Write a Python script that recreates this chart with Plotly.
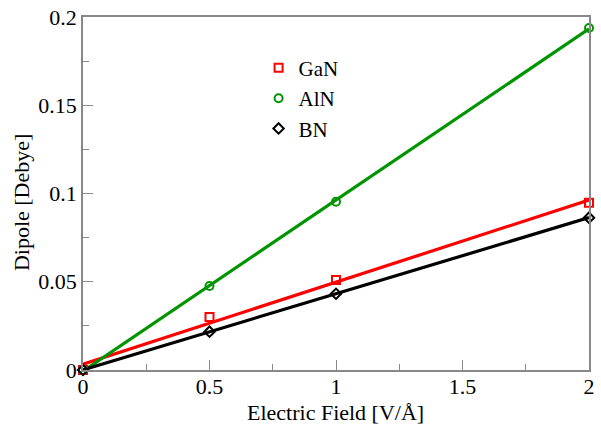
import numpy as np
import plotly.graph_objects as go

field = [0, 0.5, 1, 2]
gan = [0.0, 0.030, 0.051, 0.0948]
aln = [0.0, 0.0476, 0.0953, 0.1938]
bn = [0.0, 0.0217, 0.0432, 0.0863]

x_ticks = [0, 0.5, 1, 1.5, 2]
x_labels = ["0", "0.5", "1", "1.5", "2"]
y_ticks = [0, 0.05, 0.1, 0.15, 0.2]
y_labels = ["0", "0.05", "0.1", "0.15", "0.2"]

series = [
    ("GaN", gan, "#ff0000", "square-open"),
    ("AlN", aln, "#009400", "circle-open"),
    ("BN", bn, "#000000", "diamond-open"),
]

FONT = "Liberation Serif"
fig = go.Figure()

xfit = np.array([0.0, 2.0])
for name, vals, col, sym in series:
    k, b = np.polyfit(field, vals, 1)
    fig.add_trace(go.Scatter(x=xfit, y=k * xfit + b, mode="lines",
                             line=dict(color=col, width=3.2),
                             showlegend=False, hoverinfo="skip", cliponaxis=False))
for name, vals, col, sym in series:
    fig.add_trace(go.Scatter(x=field, y=vals, mode="markers", name=name,
                             marker=dict(symbol=sym, size=8, color=col,
                                         line=dict(color=col, width=2)),
                             cliponaxis=False))

axis_common = dict(showline=True, linecolor="#888888", linewidth=1.5, mirror=True,
                   ticks="inside", ticklen=10, tickwidth=1.2, tickcolor="#888888",
                   showgrid=False, zeroline=False, automargin=False,
                   tickfont=dict(family=FONT, size=22, color="#000"))

fig.update_xaxes(range=[0, 2], tickvals=x_ticks, ticktext=x_labels, ticklabelstandoff=-4,
                 minor=dict(ticks="inside", ticklen=6, dtick=0.25, tickcolor="#888888", tickwidth=1.2),
                 **axis_common)
fig.update_yaxes(range=[0, 0.2], tickvals=y_ticks, ticktext=y_labels,
                 minor=dict(ticks="inside", ticklen=6, dtick=0.025, tickcolor="#888888", tickwidth=1.2),
                 **axis_common)

fig.add_annotation(text="Electric Field [V/Å]", xref="paper", yref="paper",
                   x=0.499, y=-0.12, xanchor="center", yanchor="middle", showarrow=False,
                   font=dict(family=FONT, size=22, color="#000"))
fig.add_annotation(text="Dipole [Debye]", xref="paper", yref="paper",
                   x=-0.121, y=0.475, xanchor="center", yanchor="middle", showarrow=False,
                   textangle=-90, font=dict(family=FONT, size=22, color="#000"))

fig.update_layout(
    width=601, height=425,
    margin=dict(l=83, r=12, t=17, b=55),
    plot_bgcolor="white", paper_bgcolor="white",
    font=dict(family=FONT, color="#000"),
    legend=dict(x=0.347, y=0.913, xanchor="left", yanchor="top",
                font=dict(family=FONT, size=21, color="#000"),
                bgcolor="rgba(0,0,0,0)", itemwidth=30),
)

fig.write_html("out.html")
